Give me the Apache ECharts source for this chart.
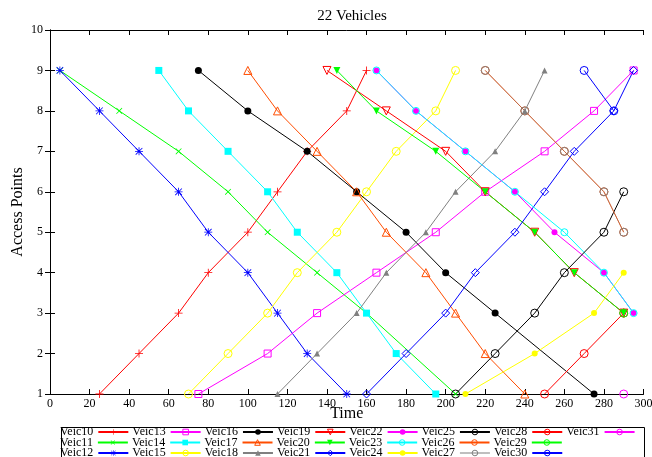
<!DOCTYPE html>
<html>
<head>
<meta charset="utf-8">
<script src="https://cdn.jsdelivr.net/npm/echarts@6/dist/echarts.min.js"></script>
<style>
    html, body { margin: 0; padding: 0; background: #fff; }
    #chart { width: 652px; height: 457px; }
</style>
</head>
<body>
<div id="chart"></div>
<script>
    // [time, access point] pairs
    const veic10 = [[25, 1], [45, 2], [65, 3], [80, 4], [100, 5], [115, 6], [130, 7], [150, 8], [160, 9]];
    const veic11 = [[5, 9], [35, 8], [65, 7], [90, 6], [110, 5], [135, 4], [160, 3], [205, 1]];
    const veic12 = [[5, 9], [25, 8], [45, 7], [65, 6], [80, 5], [100, 4], [115, 3], [130, 2], [150, 1]];
    const veic13 = [[75, 1], [110, 2], [135, 3], [165, 4], [195, 5], [220, 6], [250, 7], [275, 8], [295, 9]];
    const veic14 = [[55, 9], [70, 8], [90, 7], [110, 6], [125, 5], [145, 4], [160, 3], [175, 2], [195, 1]];
    const veic15 = [[70, 1], [90, 2], [110, 3], [125, 4], [145, 5], [160, 6], [175, 7], [195, 8], [205, 9]];
    const veic16 = [[75, 9], [100, 8], [130, 7], [155, 6], [180, 5], [200, 4], [225, 3], [275, 1]];
    const veic17 = [[100, 9], [115, 8], [135, 7], [155, 6], [170, 5], [190, 4], [205, 3], [220, 2], [240, 1]];
    const veic18 = [[115, 1], [135, 2], [155, 3], [170, 4], [190, 5], [205, 6], [225, 7], [240, 8], [250, 9]];
    const veic19 = [[140, 9], [170, 8], [200, 7], [220, 6], [245, 5], [265, 4], [290, 3]];
    const veic20 = [[145, 9], [165, 8], [195, 7], [220, 6], [245, 5], [265, 4], [290, 3]];
    const veic21 = [[160, 1], [180, 2], [200, 3], [215, 4], [235, 5], [250, 6], [265, 7], [285, 8], [295, 9]];
    const veic22 = [[165, 9], [185, 8], [210, 7], [235, 6], [255, 5], [280, 4], [295, 3]];
    const veic23 = [[165, 9], [185, 8], [210, 7], [235, 6], [260, 5], [280, 4], [295, 3]];
    const veic24 = [[210, 1], [245, 2], [275, 3], [290, 4]];
    const veic25 = [[205, 1], [225, 2], [245, 3], [260, 4], [280, 5], [290, 6]];
    const veic26 = [[220, 9], [240, 8], [260, 7], [280, 6], [290, 5]];
    const veic27 = [[220, 9], [240, 8], [260, 7], [280, 6], [290, 5]];
    const veic28 = [[250, 1], [270, 2], [290, 3]];
    const veic29 = [[290, 3]];
    const veic30 = [[270, 9], [285, 8]];
    const veic31 = [[290, 1]];

    // legend rows as they appear in the key box
    const legendRow1 = ['Veic10', 'Veic13', 'Veic16', 'Veic19', 'Veic22', 'Veic25', 'Veic28', 'Veic31'];
    const legendRow2 = ['Veic11', 'Veic14', 'Veic17', 'Veic20', 'Veic23', 'Veic26', 'Veic29'];
    const legendRow3 = ['Veic12', 'Veic15', 'Veic18', 'Veic21', 'Veic24', 'Veic27', 'Veic30'];

    const serif = 'Liberation Serif';
    const plus = 'path://M4.5,0H5.5V4.5H10V5.5H5.5V10H4.5V5.5H0V4.5H4.5Z';
    const star = 'path://M4.5,0H5.5V10H4.5Z M0,4.5H10V5.5H0Z M1.2,0.5L9.5,8.8L8.8,9.5L0.5,1.2Z M8.8,0.5L9.5,1.2L1.2,9.5L0.5,8.8Z';

    const RED = '#ff0000', GREEN = '#00ff00', BLUE = '#0000ff', MAGENTA = '#ff00ff',
        CYAN = '#00ffff', YELLOW = '#ffff00', BLACK = '#000000', ORANGE = '#ff4d00', GRAY = '#808080';

    // name, data, colour, symbol, size, rotate, hollow
    const seriesDefs = [
        ['Veic10', veic10, RED, plus, 8, 0, false],
        ['Veic11', veic11, GREEN, plus, 8, 45, false],
        ['Veic12', veic12, BLUE, star, 8, 0, false],
        ['Veic13', veic13, MAGENTA, 'rect', 7, 0, true],
        ['Veic14', veic14, CYAN, 'rect', 7, 0, false],
        ['Veic15', veic15, YELLOW, 'circle', 8, 0, true],
        ['Veic16', veic16, BLACK, 'circle', 7, 0, false],
        ['Veic17', veic17, ORANGE, 'triangle', 8, 0, true],
        ['Veic18', veic18, GRAY, 'triangle', 6, 0, false],
        ['Veic19', veic19, RED, 'triangle', 8, 180, true],
        ['Veic20', veic20, GREEN, 'triangle', 7, 180, false],
        ['Veic21', veic21, BLUE, 'diamond', 8, 0, true],
        ['Veic22', veic22, MAGENTA, 'circle', 6, 0, false],
        ['Veic23', veic23, CYAN, 'circle', 7, 0, true],
        ['Veic24', veic24, YELLOW, 'circle', 6, 0, false],
        ['Veic25', veic25, BLACK, 'circle', 8, 0, true],
        ['Veic26', veic26, ORANGE, 'circle', 8, 0, true],
        ['Veic27', veic27, GRAY, 'circle', 8, 0, true],
        ['Veic28', veic28, RED, 'circle', 8, 0, true],
        ['Veic29', veic29, GREEN, 'circle', 8, 0, true],
        ['Veic30', veic30, BLUE, 'circle', 8, 0, true],
        ['Veic31', veic31, MAGENTA, 'circle', 8, 0, true]
    ];

    const styleOf = {};
    const series = seriesDefs.map(function (d) {
        const itemStyle = d[6]
            ? { color: 'rgba(255,255,255,0)', borderColor: d[2], borderWidth: 1 }
            : { color: d[2], borderWidth: 0 };
        styleOf[d[0]] = itemStyle;
        const s = {
            name: d[0],
            type: 'line',
            data: d[1],
            color: d[2],
            symbol: d[3],
            symbolSize: d[4],
            symbolRotate: d[5],
            showAllSymbol: true,
            lineStyle: { width: 1, color: d[2] },
            itemStyle: itemStyle,
            emphasis: { disabled: true },
            animation: false
        };
        // 26 and 27 sit on top of each other, the picture shows the mix
        if (d[0] === 'Veic27') {
            s.lineStyle.opacity = 0.5;
        }
        if (d[0] === 'Veic28') {
            s.z = 3;
        }
        return s;
    });

    function legendFor(names, top) {
        return {
            data: names.map(function (n) {
                return { name: n, itemStyle: styleOf[n] };
            }),
            left: 60,
            top: top,
            orient: 'horizontal',
            align: 'right',
            padding: 0,
            itemWidth: 30,
            itemHeight: 7,
            itemGap: 3,
            selectedMode: false,
            textStyle: { fontFamily: serif, fontSize: 12, color: '#000', lineHeight: 10 }
        };
    }

    const axisLabelStyle = { fontFamily: serif, fontSize: 12, color: '#000' };

    const option = {
        backgroundColor: '#fff',
        animation: false,
        title: {
            text: '22 Vehicles',
            left: 347,
            top: 4,
            textAlign: 'center',
            textStyle: { fontFamily: serif, fontSize: 15, fontWeight: 'normal', color: '#000' }
        },
        legend: [legendFor(legendRow1, 426), legendFor(legendRow2, 436.5), legendFor(legendRow3, 447)],
        grid: { left: 50, right: 8.5, top: 30, bottom: 63, containLabel: false, outerBoundsMode: 'none' },
        xAxis: [
            {
                type: 'value',
                min: 0,
                max: 300,
                interval: 20,
                name: 'Time',
                nameLocation: 'middle',
                nameGap: 12,
                nameMoveOverlap: false,
                nameTextStyle: { fontFamily: serif, fontSize: 16, color: '#000' },
                axisLine: { lineStyle: { color: '#000', width: 1 } },
                axisTick: { inside: true, length: 5, lineStyle: { color: '#000' } },
                axisLabel: Object.assign({ margin: 4 }, axisLabelStyle),
                splitLine: { show: false }
            },
            {
                type: 'value',
                position: 'top',
                min: 0,
                max: 300,
                interval: 20,
                axisLine: { lineStyle: { color: '#000', width: 1 } },
                axisTick: { inside: true, length: 5, lineStyle: { color: '#000' } },
                axisLabel: { show: false },
                splitLine: { show: false }
            }
        ],
        yAxis: [
            {
                type: 'value',
                min: 1,
                max: 10,
                interval: 1,
                name: 'Access Points',
                nameLocation: 'middle',
                nameGap: 24,
                nameMoveOverlap: false,
                nameTextStyle: { fontFamily: serif, fontSize: 16, color: '#000' },
                axisLine: { show: true, lineStyle: { color: '#000', width: 1 } },
                axisTick: { show: true, inside: true, length: 5, lineStyle: { color: '#000' } },
                axisLabel: Object.assign({ margin: 7 }, axisLabelStyle),
                splitLine: { show: false }
            },
            {
                type: 'value',
                position: 'right',
                min: 1,
                max: 10,
                interval: 1,
                axisLine: { show: true, lineStyle: { color: '#000', width: 1 } },
                axisTick: { show: true, inside: true, length: 5, lineStyle: { color: '#000' } },
                axisLabel: { show: false },
                splitLine: { show: false }
            }
        ],
        graphic: [
            {
                type: 'rect',
                left: 59,
                top: 425,
                shape: { width: 583, height: 31 },
                style: { fill: 'none', stroke: '#000', lineWidth: 1 },
                silent: true
            }
        ],
        series: series
    };

    const myChart = echarts.init(document.getElementById('chart'), null, { renderer: 'canvas' });
    myChart.setOption(option);
</script>
</body>
</html>
